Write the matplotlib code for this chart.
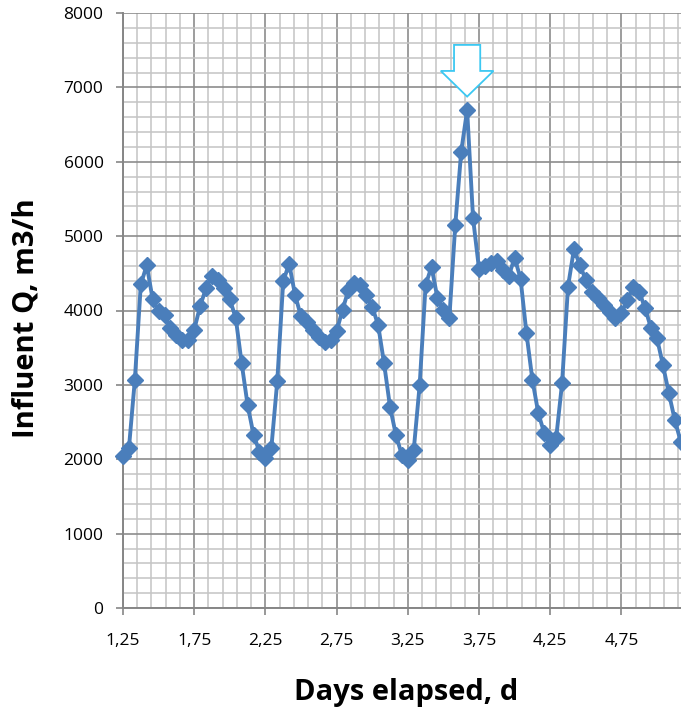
import matplotlib.pyplot as plt
import numpy as np
from matplotlib.patches import Polygon
from matplotlib.ticker import FixedLocator, MultipleLocator

# hourly influent flow, starting at day 1.25
start_day = 1.25
flow = [2040, 2150, 3070, 4350, 4610, 4150, 3990, 3940, 3760, 3670, 3600, 3600,
        3740, 4060, 4300, 4470, 4410, 4300, 4150, 3900, 3290, 2730, 2330, 2100,
        2020, 2150, 3050, 4390, 4630, 4210, 3920, 3850, 3740, 3650, 3580, 3600,
        3720, 4010, 4276, 4366, 4343, 4208, 4051, 3805, 3290, 2707, 2326, 2057,
        1990, 2124, 2998, 4343, 4589, 4164, 4007, 3895, 5150, 6135, 6696, 5238,
        4560, 4600, 4640, 4660, 4540, 4460, 4710, 4430, 3693, 3066, 2618, 2350,
        2191, 2281, 3021, 4320, 4823, 4612, 4410, 4253, 4164, 4074, 3984, 3895,
        3962, 4141, 4320, 4253, 4029, 3760, 3626, 3267, 2886, 2528, 2237]
days = start_day + np.arange(len(flow)) / 24.0

xticks = np.arange(1.25, 5.0, 0.5)
xtick_labels = [f"{v:.2f}".replace(".", ",") for v in xticks]

fig = plt.figure(figsize=(6.81, 7.11), dpi=100)
ax = fig.add_axes([123 / 681, 1 - 608 / 711, 558 / 681, 595 / 711])

ax.plot(days, flow, color="#4A7EBB", lw=2.8, marker="D", ms=8,
        mec="#4A7EBB", mfc="#4A7EBB", zorder=3, clip_on=False)

# block arrow pointing at the peak
i = int(np.argmax(flow))
px, py = days[i], flow[i]
arrow = [(px, py + 180), (px - 0.185, py + 525), (px - 0.092, py + 525),
         (px - 0.092, py + 875), (px + 0.092, py + 875), (px + 0.092, py + 525),
         (px + 0.185, py + 525)]
ax.add_patch(Polygon(arrow, closed=True, fc="white", ec="#3CC8F2", lw=1.3, zorder=4))

ax.set_xlim(1.25, 1.25 + 558 / 142.4)
ax.set_ylim(0, 8000)

ax.xaxis.set_major_locator(FixedLocator(xticks))
ax.set_xticklabels(xtick_labels)
ax.xaxis.set_minor_locator(FixedLocator(np.arange(1.25, 5.3, 0.1)))
ax.yaxis.set_major_locator(MultipleLocator(1000))
ax.yaxis.set_minor_locator(MultipleLocator(200))

ax.grid(which="major", color="#8c8c8c", lw=1.2)
ax.grid(which="minor", color="#c4c4c4", lw=1.1)
ax.set_axisbelow(True)

for s in ["top", "right"]:
    ax.spines[s].set_visible(False)
for s in ["left", "bottom"]:
    ax.spines[s].set_color("#868686")
    ax.spines[s].set_linewidth(1.4)

ax.tick_params(which="major", length=5, width=1.2, color="#868686",
               labelsize=12.5, pad=13)
ax.tick_params(axis="y", pad=9)
ax.tick_params(which="minor", length=0)
for lab in ax.get_xticklabels() + ax.get_yticklabels():
    lab.set_family("Open Sans")

ax.set_xlabel("Days elapsed, d", fontsize=21, fontweight="bold",
              family="Open Sans")
ax.set_ylabel("Influent Q, m3/h", fontsize=21, fontweight="bold",
              family="Open Sans")
ax.xaxis.set_label_coords(0.507, -0.118)
ax.yaxis.set_label_coords(-0.147, 0.487)

fig.savefig("out.png", dpi=100)
